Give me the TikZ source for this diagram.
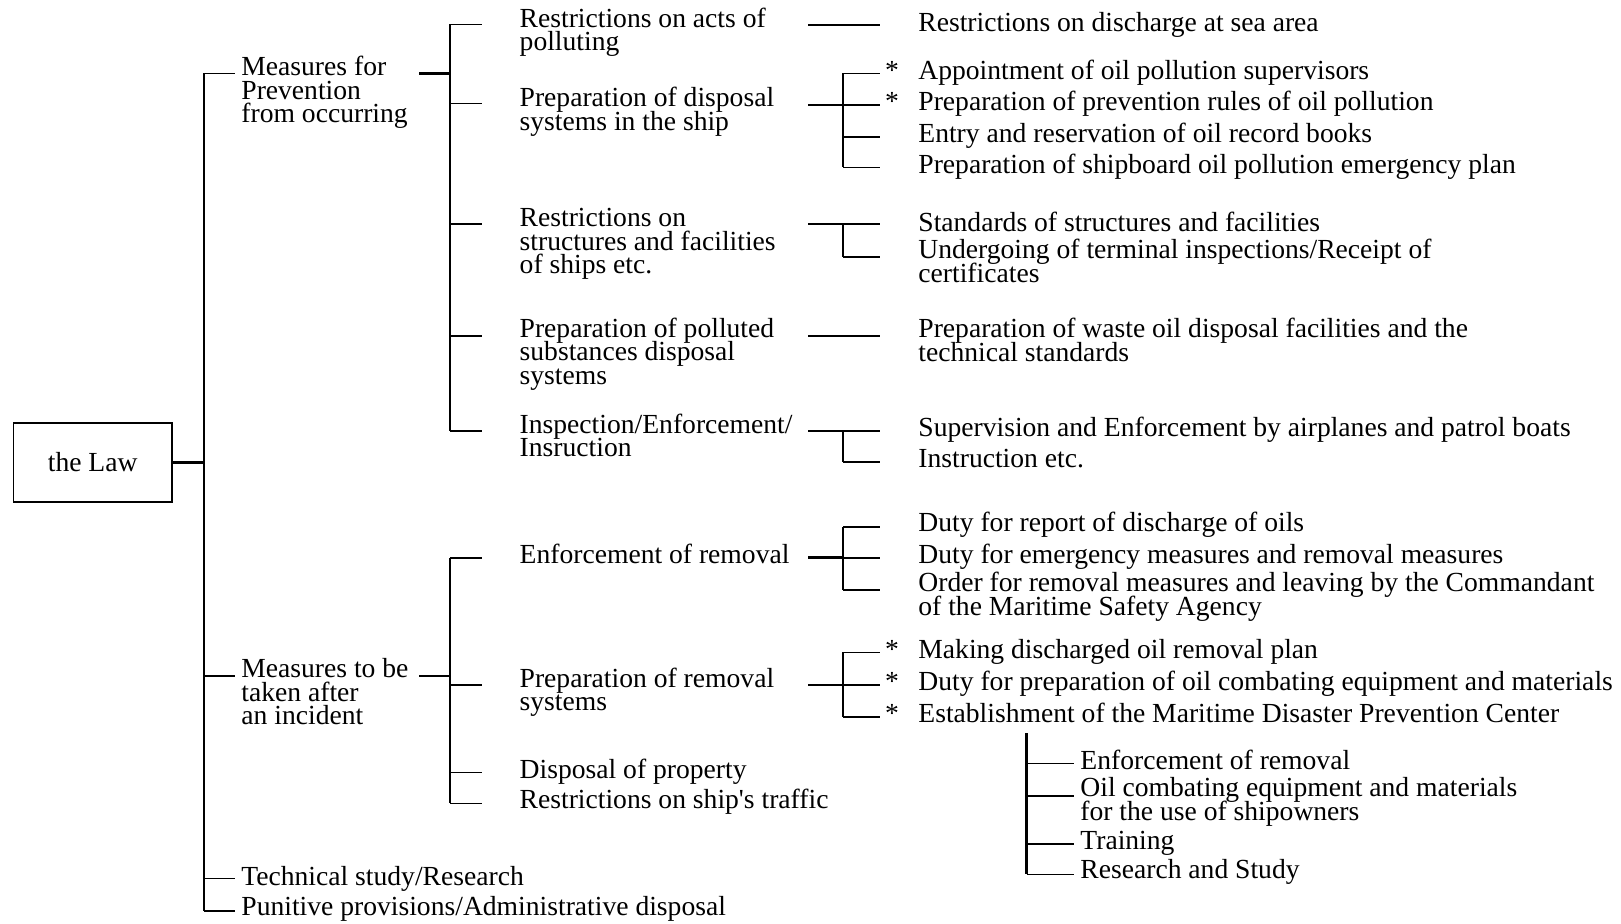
\documentclass[tikz,border=0pt]{standalone}
\usepackage{fontspec}
\setmainfont{Liberation Serif}
\AtBeginDocument{\lineskiplimit=-20pt\relax}

\begin{document}
\begin{tikzpicture}[
  x=0.5pt, y=-0.5pt,
  every node/.style={font=\fontsize{13.8pt}{11.8pt}\selectfont},
  txt/.style={anchor=base west, inner sep=0pt, align=left},
  twoline/.style={yshift=-11.8pt},
  threeline/.style={yshift=-23.6pt},
  asterisk/.style={anchor=base, inner sep=0pt},
  lawbox/.style={draw, line width=0.8pt, minimum width=79.3pt, minimum height=39.5pt, inner sep=0pt},
  twig/.style={line width=0.8pt},
  stem/.style={line width=1.4pt},
  toA/.style={twig, shorten >=3pt},
  toB/.style={twig, shorten >=18.6pt},
  toleaf/.style={twig, shorten >=19pt},
  tosub/.style={twig, shorten >=3pt}
]
\useasboundingbox (0,0) rectangle (1621,923);

\node[lawbox] (law) at (92.7,462.2) {the Law};

\node[txt, threeline] (a1) at (241,75.5) {Measures for\\Prevention\\from occurring};
\node[txt, threeline] (a2) at (241,677.5) {Measures to be\\taken after\\an incident};
\node[txt] (a3) at (241,885) {Technical study/Research};
\node[txt] (a4) at (241,915) {Punitive provisions/Administrative disposal};

\node[txt, twoline] (b1) at (519.3,27) {Restrictions on acts of\\polluting};
\node[txt, twoline] (b2) at (519.3,106.5) {Preparation of disposal\\systems in the ship};
\node[txt, threeline] (b3) at (519.3,226.5) {Restrictions on\\structures and facilities\\of ships etc.};
\node[txt, threeline] (b4) at (519.3,337) {Preparation of polluted\\substances disposal\\systems};
\node[txt, twoline] (b5) at (519.3,433) {Inspection/Enforcement/\\Insruction};
\node[txt] (b6) at (519.3,563) {Enforcement of removal};
\node[txt, twoline] (b7) at (519.3,687) {Preparation of removal\\systems};
\node[txt] (b8) at (519.3,778) {Disposal of property};
\node[txt] (b9) at (519.3,808.5) {Restrictions on ship\textquotesingle s traffic};

\node[txt] (l1) at (918,31.5) {Restrictions on discharge at sea area};
\node[txt] (l2) at (918,79) {Appointment of oil pollution supervisors};
\node[txt] (l3) at (918,110) {Preparation of prevention rules of oil pollution};
\node[txt] (l4) at (918,142.5) {Entry and reservation of oil record books};
\node[txt] (l5) at (918,173.3) {Preparation of shipboard oil pollution emergency plan};
\node[txt] (l6) at (918,231) {Standards of structures and facilities};
\node[txt, twoline] (l7) at (918,258.5) {Undergoing of terminal inspections/Receipt of\\certificates};
\node[txt, twoline] (l8) at (918,337.5) {Preparation of waste oil disposal facilities and the\\technical standards};
\node[txt] (l9) at (918,436) {Supervision and Enforcement by airplanes and patrol boats};
\node[txt] (l10) at (918,467.5) {Instruction etc.};
\node[txt] (l11) at (918,531) {Duty for report of discharge of oils};
\node[txt] (l12) at (918,563) {Duty for emergency measures and removal measures};
\node[txt, twoline] (l13) at (918,591.5) {Order for removal measures and leaving by the Commandant\\of the Maritime Safety Agency};
\node[txt] (l14) at (918,658.5) {Making discharged oil removal plan};
\node[txt] (l15) at (918,690) {Duty for preparation of oil combating equipment and materials};
\node[txt] (l16) at (918,722) {Establishment of the Maritime Disaster Prevention Center};

\node[txt] (s1) at (1080,769) {Enforcement of removal};
\node[txt, twoline] (s2) at (1080,796.5) {Oil combating equipment and materials\\for the use of shipowners};
\node[txt] (s3) at (1080,849) {Training};
\node[txt] (s4) at (1080,878) {Research and Study};

\coordinate (xs) at (892,0);
\node[asterisk] (st2) at (xs |- l2.base) {*};
\node[asterisk] (st3) at (xs |- l3.base) {*};
\node[asterisk] (st14) at (xs |- l14.base) {*};
\node[asterisk] (st15) at (xs |- l15.base) {*};
\node[asterisk] (st16) at (xs |- l16.base) {*};

\coordinate (ja1) at (204,73.3);
\coordinate (ja2) at (204,676);
\coordinate (ja3) at (204,878.3);
\coordinate (ja4) at (204,910.7);
\coordinate (sa1) at (419,73.3);
\coordinate (sa2) at (419,676);

\coordinate (jb1) at (450,24.3);
\coordinate (jb2) at (450,103.3);
\coordinate (jb3) at (450,224);
\coordinate (jb4) at (450,335.7);
\coordinate (jb5) at (450,431);
\coordinate (jb6) at (450,557.7);
\coordinate (jb7) at (450,685);
\coordinate (jb8) at (450,772.3);
\coordinate (jb9) at (450,803.3);

\coordinate (sb1) at (808,25);
\coordinate (sb2) at (808,105);
\coordinate (sb3) at (808,224);
\coordinate (sb4) at (808,335.7);
\coordinate (sb5) at (808,431);
\coordinate (sb6) at (808,557.7);
\coordinate (sb7) at (808,685);

\coordinate (jl2) at (843,73.3);
\coordinate (jl3) at (843,105);
\coordinate (jl4) at (843,137);
\coordinate (jl5) at (843,167.3);
\coordinate (jl6) at (843,224);
\coordinate (jl7) at (843,256.7);
\coordinate (jl9) at (843,431);
\coordinate (jl10) at (843,461.7);
\coordinate (jl11) at (843,526.7);
\coordinate (jl12) at (843,557.7);
\coordinate (jl13) at (843,590);
\coordinate (jl14) at (843,652.3);
\coordinate (jl15) at (843,685);
\coordinate (jl16) at (843,716.7);

\coordinate (js0) at (1026.7,733.3);
\coordinate (js1) at (1026.7,763.3);
\coordinate (js2) at (1026.7,796);
\coordinate (js3) at (1026.7,844);
\coordinate (js4) at (1026.7,874.3);

\draw[stem] (law.east) -- (law.east -| ja1);
\draw[twig] (ja1) -- (ja4);
\draw[toA] (ja1) -- (ja1 -| a1.west);
\draw[toA] (ja2) -- (ja2 -| a2.west);
\draw[toA] (ja3) -- (ja3 -| a3.west);
\draw[toA] (ja4) -- (ja4 -| a4.west);
\draw[stem] (sa1) -- (sa1 -| jb1);
\draw[stem] (sa2) -- (sa2 -| jb6);

\draw[twig] (jb1) -- (jb5);
\draw[twig] (jb6) -- (jb9);
\draw[toB] (jb1) -- (jb1 -| b1.west);
\draw[toB] (jb2) -- (jb2 -| b2.west);
\draw[toB] (jb3) -- (jb3 -| b3.west);
\draw[toB] (jb4) -- (jb4 -| b4.west);
\draw[toB] (jb5) -- (jb5 -| b5.west);
\draw[toB] (jb6) -- (jb6 -| b6.west);
\draw[toB] (jb7) -- (jb7 -| b7.west);
\draw[toB] (jb8) -- (jb8 -| b8.west);
\draw[toB] (jb9) -- (jb9 -| b9.west);

\draw[toleaf] (sb1) -- (sb1 -| l1.west);
\draw[stem] (sb2) -- (jl3);
\draw[twig] (jl2) -- (jl5);
\draw[toleaf] (jl2) -- (jl2 -| l2.west);
\draw[toleaf] (jl3) -- (jl3 -| l3.west);
\draw[toleaf] (jl4) -- (jl4 -| l4.west);
\draw[toleaf] (jl5) -- (jl5 -| l5.west);
\draw[stem] (sb3) -- (jl6);
\draw[twig] (jl6) -- (jl7);
\draw[toleaf] (jl6) -- (jl6 -| l6.west);
\draw[toleaf] (jl7) -- (jl7 -| l7.west);
\draw[toleaf] (sb4) -- (sb4 -| l8.west);
\draw[stem] (sb5) -- (jl9);
\draw[twig] (jl9) -- (jl10);
\draw[toleaf] (jl9) -- (jl9 -| l9.west);
\draw[toleaf] (jl10) -- (jl10 -| l10.west);
\draw[stem] (sb6) -- (jl12);
\draw[twig] (jl11) -- (jl13);
\draw[toleaf] (jl11) -- (jl11 -| l11.west);
\draw[toleaf] (jl12) -- (jl12 -| l12.west);
\draw[toleaf] (jl13) -- (jl13 -| l13.west);
\draw[stem] (sb7) -- (jl15);
\draw[twig] (jl14) -- (jl16);
\draw[toleaf] (jl14) -- (jl14 -| l14.west);
\draw[toleaf] (jl15) -- (jl15 -| l15.west);
\draw[toleaf] (jl16) -- (jl16 -| l16.west);

\draw[stem] (js0) -- (js4);
\draw[tosub] (js1) -- (js1 -| s1.west);
\draw[tosub] (js2) -- (js2 -| s2.west);
\draw[tosub] (js3) -- (js3 -| s3.west);
\draw[tosub] (js4) -- (js4 -| s4.west);
\end{tikzpicture}
\end{document}
